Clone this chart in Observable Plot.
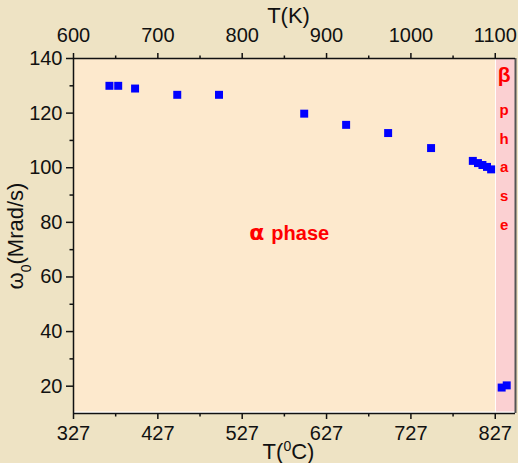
<!DOCTYPE html>
<html><head><meta charset="utf-8">
<script src="https://cdn.jsdelivr.net/npm/d3@7"></script>
<script src="https://cdn.jsdelivr.net/npm/@observablehq/plot@0.6"></script>
<style>
html,body{margin:0;padding:0;background:#eee3c4;}
</style></head><body><div id="chart"></div>
<script>
// Data (temperature in °C, ω0 in Mrad/s)
const tempC = [369.6, 380, 400, 450, 499.5, 600.5, 650.2, 700, 750.9, 800.4, 806.5, 811.8, 817.2, 822.1, 834.6, 840.6];
const omega = [130, 130, 129, 126.7, 126.7, 119.8, 115.7, 112.7, 107.2, 102.5, 101.7, 101.0, 100.3, 99.4, 19.5, 20.3];

const phaseNames = ["alpha", "beta"];
const phaseStart = [327, 828.4];
const phaseEnd = [827.3, 851];
const phaseColors = ["#fde9cd", "#fbd0d2"];

const xMajor = [327, 427, 527, 627, 727, 827];
const xMinor = [377, 477, 577, 677, 777];
const yMajor = [20, 40, 60, 80, 100, 120, 140];
const yMinor = [30, 50, 70, 90, 110, 130];
const kelvinOffset = 273;

const annoText = ["α phase", "β", "p\nh\na\ns\ne"];
const annoX = [582.7, 837.5, 837.5];
const annoY = [76, 133.9, 101.65];

const points = tempC.map((t, i) => ({t, w: omega[i]}));
const phases = phaseNames.map((n, i) => ({n, x1: phaseStart[i], x2: phaseEnd[i], c: phaseColors[i]}));
const annos = annoText.map((s, i) => ({s, x: annoX[i], y: annoY[i]}));

const font = "'Liberation Sans', Arial, sans-serif";

const chart = Plot.plot({
  width: 518, height: 463,
  marginLeft: 73, marginRight: 3, marginTop: 58, marginBottom: 50,
  x: {domain: [327, 851]},
  y: {domain: [10, 140]},
  style: {fontFamily: font, fontSize: "20px", background: "#eee3c4", color: "#111", overflow: "visible"},
  marks: [
    Plot.frame({fill: "white", stroke: null}),
    Plot.rect(phases, {x1: "x1", x2: "x2", fill: "c", insetBottom: 1.5}),
    Plot.ruleX([phaseEnd[1]], {stroke: "#555", strokeWidth: 2}),
    Plot.ruleX([phaseStart[0]], {stroke: "#111", strokeWidth: 1.5}),
    Plot.ruleY([10, 140], {stroke: "#111", strokeWidth: 1.5}),
    Plot.axisX(xMajor, {anchor: "bottom", tickSize: 6, tickPadding: 6, strokeWidth: 1.5, fontSize: 20,
      label: "T(0C)", labelAnchor: "center", labelOffset: 45, labelArrow: "none"}),
    Plot.axisX(xMinor, {anchor: "bottom", tickSize: 3.5, strokeWidth: 1.5, tickFormat: () => "", label: null}),
    Plot.axisX(xMajor, {anchor: "top", tickSize: 6, tickPadding: 11, strokeWidth: 1.5, fontSize: 20,
      tickFormat: d => String(d + kelvinOffset),
      label: "T(K)", labelAnchor: "center", labelOffset: 51, labelArrow: "none"}),
    Plot.axisX(xMinor, {anchor: "top", tickSize: 3.5, strokeWidth: 1.5, tickFormat: () => "", label: null}),
    Plot.axisY(yMajor, {anchor: "left", tickSize: 7, tickPadding: 4, strokeWidth: 1.5, fontSize: 20,
      label: "w0(Mrad/s)", labelAnchor: "center", labelOffset: 66, labelArrow: "none"}),
    Plot.axisY(yMinor, {anchor: "left", tickSize: 3.5, strokeWidth: 1.5, tickFormat: () => "", label: null}),
    Plot.dot(points, {x: "t", y: "w", symbol: "square", r: 4.5, fill: "#0000ff", stroke: null}),
    Plot.text(annos.slice(0, 1), {x: "x", y: "y", text: "s", fill: "#ff0000", fontWeight: "bold", fontSize: 20}),
    Plot.text(annos.slice(1, 2), {x: "x", y: "y", text: "s", fill: "#ff0000", fontWeight: "bold", fontSize: 21}),
    Plot.text(annos.slice(2, 3), {x: "x", y: "y", text: "s", fill: "#ff0000", fontWeight: "bold", fontSize: 15, lineHeight: 1.93})
  ]
});

const NS = "http://www.w3.org/2000/svg";
function span(txt, attrs = {}) {
  const e = document.createElementNS(NS, "tspan");
  e.textContent = txt;
  for (const k in attrs) e.setAttribute(k, attrs[k]);
  return e;
}
chart.querySelectorAll("text").forEach(t => {
  const s = t.textContent;
  if (s === "T(0C)" || s === "w0(Mrad/s)" || s === "T(K)") t.setAttribute("font-size", "22");
  if (s === "T(0C)") {
    t.textContent = "";
    t.setAttribute("dx", "-6");
    t.append(span("T("), span("0", {"baseline-shift": "super", "font-size": "14"}), span("C)"));
  } else if (s === "T(K)") {
    t.setAttribute("dx", "-6");
  } else if (s === "w0(Mrad/s)") {
    t.textContent = "";
    t.append(span("ω"), span("0", {"baseline-shift": "sub", "font-size": "14"}), span("(Mrad/s)"));
  } else if (s === annoText[0]) {
    t.textContent = "";
    t.append(span("α", {"font-size": "22", "font-family": "'DejaVu Sans', sans-serif"}), span("phase", {dx: "7"}));
  }
});

document.getElementById("chart").append(chart);
</script>
</body></html>
